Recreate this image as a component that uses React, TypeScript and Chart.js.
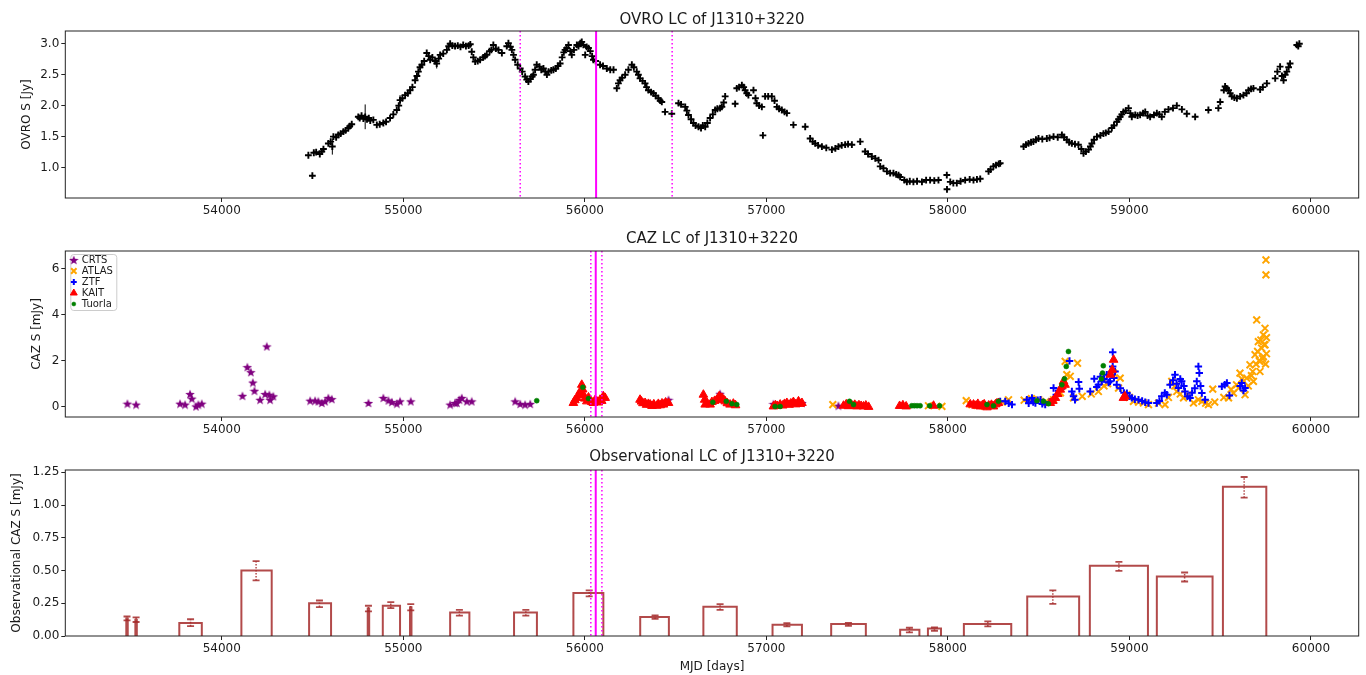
import React, { useEffect, useRef } from 'react';
import { Chart, registerables } from 'chart.js';
import { drawPoint } from 'chart.js/helpers';

Chart.register(...registerables);

// ---------------- data ----------------
const xTicks = [54000, 55000, 56000, 57000, 58000, 59000, 60000];
const ovroTicks = [1.0, 1.5, 2.0, 2.5, 3.0];
const cazTicks = [0, 2, 4, 6];
const obsTicks = [0, 0.25, 0.5, 0.75, 1.0, 1.25];

const ovroMjd = [
  54477, 54499, 54507, 54520, 54540, 54551, 54560, 54587, 54600, 54609, 54615, 54630, 54642, 54655, 54670, 54682, 54697, 54705, 54716,
  54752, 54760, 54770, 54780, 54790, 54800, 54810, 54818, 54835, 54854, 54870, 54890, 54905, 54927, 54945, 54964, 54975, 54982, 54995,
  55010, 55025, 55037, 55050, 55065, 55075, 55083, 55092, 55102, 55115, 55129, 55140, 55148, 55160, 55175, 55184, 55195, 55203, 55220,
  55240, 55250, 55258, 55270, 55285, 55300, 55315, 55330, 55345, 55360, 55369, 55377, 55386, 55396, 55410, 55423, 55440, 55450, 55460,
  55475, 55485, 55496, 55510, 55524, 55543, 55570, 55579, 55590, 55598, 55607, 55616, 55630, 55644, 55655, 55671, 55680, 55689, 55700,
  55710, 55717, 55726, 55735, 55750, 55760, 55772, 55782, 55791, 55800, 55815, 55827, 55840, 55852, 55864, 55875, 55884, 55891, 55900,
  55910, 55920, 55928, 55940, 55956, 55965, 55975, 55983, 55992, 56002, 56010, 56020, 56030, 56040, 56047, 56060, 56084, 56100, 56121,
  56140, 56158, 56176, 56185, 56194, 56205, 56222, 56240, 56259, 56270, 56286, 56295, 56304, 56318, 56332, 56340, 56350, 56365, 56378,
  56390, 56405, 56415, 56424, 56442, 56479, 56516, 56530, 56553, 56562, 56571, 56585, 56598, 56610, 56626, 56640, 56650, 56663, 56675,
  56690, 56705, 56718, 56730, 56745, 56755, 56765, 56773, 56828, 56837, 56850, 56865, 56875, 56883, 56892, 56901, 56929, 56940, 56947,
  56960, 56975, 56981, 56993, 57010, 57030, 57045, 57058, 57070, 57085, 57100, 57113, 57149, 57214, 57241, 57255, 57269, 57285, 57306,
  57330, 57361, 57380, 57397, 57415, 57434, 57450, 57471, 57517, 57544, 57560, 57581, 57600, 57618, 57627, 57645, 57664, 57682, 57700,
  57715, 57728, 57737, 57760, 57774, 57790, 57810, 57830, 57857, 57880, 57902, 57925, 57948, 57994, 57995, 58013, 58030, 58049, 58070,
  58095, 58120, 58141, 58160, 58178, 58224, 58235, 58251, 58265, 58280, 58288, 58417, 58430, 58444, 58458, 58471, 58485, 58499, 58520,
  58545, 58560, 58582, 58605, 58628, 58640, 58655, 58668, 58683, 58700, 58719, 58735, 58747, 58760, 58775, 58785, 58793, 58805, 58821,
  58840, 58857, 58870, 58885, 58903, 58915, 58931, 58940, 58949, 58958, 58967, 58980, 58995, 59005, 59013, 59032, 59045, 59059, 59075,
  59087, 59100, 59114, 59135, 59151, 59165, 59178, 59195, 59215, 59240, 59261, 59289, 59316, 59362, 59435, 59490, 59500, 59520, 59527,
  59535, 59546, 59555, 59564, 59578, 59592, 59610, 59628, 59645, 59656, 59670, 59683, 59720, 59735, 59757, 59803, 59815, 59830, 59840,
  59849, 59858, 59867, 59877, 59885, 59922, 59930, 59936,
];
const ovroFlux = [
  1.20, 0.87, 1.24, 1.25, 1.22, 1.26, 1.30, 1.39, 1.42, 1.34, 1.50, 1.49, 1.53, 1.55, 1.58, 1.60, 1.64, 1.67, 1.70,
  1.82, 1.80, 1.84, 1.79, 1.82, 1.78, 1.80, 1.76, 1.77, 1.69, 1.70, 1.72, 1.74, 1.80, 1.86, 1.93, 2.00, 2.09, 2.12,
  2.17, 2.20, 2.25, 2.30, 2.41, 2.48, 2.55, 2.62, 2.66, 2.72, 2.85, 2.80, 2.74, 2.78, 2.72, 2.68, 2.76, 2.82, 2.84,
  2.90, 2.96, 3.00, 2.97, 2.96, 2.97, 2.95, 2.98, 2.96, 2.97, 2.99, 2.87, 2.78, 2.71, 2.72, 2.74, 2.78, 2.80, 2.82,
  2.88, 2.90, 2.98, 2.92, 2.90, 2.85, 2.96, 3.01, 2.95, 2.90, 2.82, 2.74, 2.66, 2.60, 2.55, 2.47, 2.42, 2.39, 2.43,
  2.47, 2.50, 2.58, 2.66, 2.63, 2.58, 2.60, 2.55, 2.50, 2.55, 2.57, 2.58, 2.60, 2.64, 2.68, 2.78, 2.86, 2.90, 2.93,
  2.98, 2.88, 2.82, 2.90, 2.98, 2.96, 3.01, 3.03, 2.98, 2.82, 2.95, 2.93, 2.88, 2.80, 2.74, 2.72, 2.66, 2.64, 2.60,
  2.58, 2.58, 2.28, 2.36, 2.41, 2.45, 2.50, 2.58, 2.66, 2.62, 2.55, 2.50, 2.44, 2.40, 2.36, 2.30, 2.25, 2.22, 2.20,
  2.16, 2.12, 2.08, 2.06, 1.90, 1.87, 2.04, 2.02, 1.98, 1.92, 1.85, 1.78, 1.72, 1.68, 1.66, 1.64, 1.68, 1.66, 1.72,
  1.80, 1.86, 1.93, 1.95, 1.96, 1.98, 2.05, 2.15, 2.03, 2.28, 2.30, 2.33, 2.30, 2.25, 2.20, 2.17, 2.25, 2.12, 2.04,
  2.00, 1.98, 1.52, 2.15, 2.15, 2.15, 2.08, 1.98, 1.95, 1.93, 1.90, 1.88, 1.69, 1.66, 1.47, 1.42, 1.39, 1.36, 1.34,
  1.32, 1.29, 1.31, 1.34, 1.36, 1.37, 1.38, 1.37, 1.42, 1.26, 1.22, 1.18, 1.15, 1.12, 1.02, 0.99, 0.94, 0.91, 0.91,
  0.89, 0.88, 0.85, 0.80, 0.77, 0.78, 0.77, 0.78, 0.77, 0.80, 0.80, 0.79, 0.80, 0.88, 0.65, 0.77, 0.75, 0.75, 0.78,
  0.80, 0.81, 0.80, 0.81, 0.82, 0.94, 0.97, 1.02, 1.04, 1.06, 1.07, 1.34, 1.37, 1.39, 1.41, 1.42, 1.45, 1.47, 1.46,
  1.47, 1.48, 1.50, 1.49, 1.53, 1.49, 1.45, 1.41, 1.39, 1.38, 1.37, 1.30, 1.23, 1.26, 1.29, 1.34, 1.39, 1.45, 1.50,
  1.52, 1.55, 1.56, 1.58, 1.64, 1.68, 1.74, 1.78, 1.82, 1.86, 1.90, 1.92, 1.96, 1.88, 1.82, 1.85, 1.84, 1.85, 1.88,
  1.90, 1.84, 1.82, 1.85, 1.88, 1.86, 1.82, 1.90, 1.94, 1.96, 2.00, 1.94, 1.87, 1.82, 1.93, 1.96, 2.06, 2.25, 2.31,
  2.28, 2.25, 2.20, 2.15, 2.13, 2.12, 2.15, 2.17, 2.20, 2.25, 2.27, 2.28, 2.26, 2.30, 2.36, 2.44, 2.55, 2.63, 2.48,
  2.41, 2.50, 2.55, 2.62, 2.68, 2.98, 2.96, 3.00,
];
const ovroErrMjd = [54609, 54790, 54982, 55184, 55102];
const ovroErrLo = [1.21, 1.62, 2.01, 2.60, 2.61];
const ovroErrHi = [1.47, 2.02, 2.17, 2.76, 2.71];
const ovroSolid = [56062];
const ovroDotted = [55644, 56481];

const crtsMjd = [53480, 53528, 53770, 53798, 53825, 53835, 53858, 53871, 53890, 54114, 54141, 54160, 54171, 54180, 54211, 54248, 54239, 54262, 54266, 54284, 54487, 54514, 54532, 54551, 54569, 54587, 54606, 54808, 54890, 54918, 54937, 54964, 54982, 55041, 55258, 55285, 55295, 55309, 55322, 55350, 55377, 55616, 55644, 55671, 55699, 56461, 56745, 57039, 57196, 57397];
const crtsFlux = [0.13, 0.09, 0.13, 0.09, 0.55, 0.35, 0.01, 0.09, 0.13, 0.47, 1.72, 1.50, 1.05, 0.69, 0.30, 2.62, 0.55, 0.52, 0.30, 0.45, 0.26, 0.26, 0.23, 0.16, 0.23, 0.38, 0.33, 0.16, 0.38, 0.27, 0.20, 0.13, 0.23, 0.23, 0.09, 0.16, 0.16, 0.30, 0.38, 0.23, 0.23, 0.23, 0.12, 0.09, 0.12, 0.30, 0.56, 0.12, 0.16, 0.04];

const atlasMjd = [57366, 57893, 57967, 58101, 58132, 58160, 58200, 58240, 58300, 58334, 58420, 58460, 58500, 58540, 58582, 58620, 58646, 58655, 58674, 58692, 58714, 58740, 58790, 58829, 58860, 58880, 58913, 58940, 58949, 58986, 59000, 59022, 59050, 59077, 59105, 59160, 59196, 59215, 59233, 59250, 59261, 59280, 59298, 59320, 59353, 59380, 59399, 59420, 59435, 59459, 59470, 59520, 59546, 59560, 59573, 59590, 59601, 59609, 59620, 59637, 59646, 59655, 59664, 59672, 59679, 59683, 59692, 59698, 59701, 59706, 59710, 59715, 59719, 59719, 59724, 59728, 59733, 59738, 59738, 59742, 59747, 59747, 59750, 59752, 59752, 59755, 59755];
const atlasFlux = [0.09, 0.04, 0.01, 0.26, 0.09, 0.05, 0.02, 0.06, 0.20, 0.30, 0.28, 0.35, 0.30, 0.22, 0.30, 0.60, 1.97, 1.39, 1.32, 0.38, 1.89, 0.45, 0.55, 0.66, 0.90, 1.00, 1.46, 0.81, 1.24, 0.52, 0.40, 0.23, 0.20, 0.16, 0.09, 0.15, 0.09, 0.40, 1.10, 0.90, 0.66, 0.55, 0.38, 0.50, 0.16, 0.30, 0.23, 0.15, 0.09, 0.76, 0.20, 0.40, 0.38, 0.75, 0.59, 0.95, 0.81, 1.46, 1.20, 0.52, 1.24, 0.90, 1.82, 1.35, 1.53, 1.10, 2.26, 1.85, 3.77, 2.40, 2.83, 2.00, 1.97, 1.53, 2.90, 2.55, 2.10, 3.12, 2.18, 2.70, 3.41, 2.69, 1.85, 6.38, 5.73, 3.00, 2.30];

const ztfMjd = [58288, 58316, 58335, 58353, 58435, 58445, 58463, 58470, 58482, 58495, 58510, 58520, 58536, 58560, 58582, 58597, 58610, 58640, 58670, 58683, 58692, 58700, 58720, 58724, 58784, 58806, 58820, 58829, 58840, 58848, 58860, 58875, 58885, 58893, 58900, 58908, 58908, 58915, 58921, 58930, 58950, 58970, 58986, 59000, 59013, 59030, 59050, 59070, 59087, 59105, 59151, 59165, 59178, 59195, 59206, 59224, 59240, 59251, 59260, 59270, 59280, 59288, 59300, 59306, 59320, 59334, 59345, 59360, 59371, 59380, 59385, 59392, 59399, 59417, 59509, 59525, 59537, 59551, 59610, 59619, 59628, 59637];
const ztfFlux = [0.23, 0.23, 0.15, 0.09, 0.30, 0.15, 0.38, 0.20, 0.16, 0.28, 0.30, 0.12, 0.09, 0.20, 0.81, 0.52, 0.70, 0.90, 1.99, 0.66, 0.45, 0.30, 1.07, 0.78, 0.66, 1.21, 0.85, 0.95, 1.30, 1.10, 1.20, 1.39, 1.05, 1.10, 1.50, 2.37, 1.75, 1.25, 1.53, 0.95, 0.80, 0.60, 0.59, 0.45, 0.38, 0.32, 0.30, 0.25, 0.19, 0.16, 0.16, 0.25, 0.45, 0.60, 0.52, 0.95, 1.15, 1.39, 1.00, 0.81, 1.20, 1.10, 0.90, 0.66, 0.45, 0.38, 0.60, 0.80, 1.10, 1.75, 1.46, 0.90, 0.59, 0.30, 0.88, 0.95, 1.03, 0.49, 0.90, 1.03, 0.70, 0.81];

const kaitMjd = [55937, 55945, 55956, 55965, 55974, 55983, 55988, 55992, 56000, 56011, 56020, 56029, 56038, 56047, 56056, 56066, 56075, 56084, 56093, 56102, 56112, 56304, 56312, 56320, 56332, 56340, 56350, 56360, 56370, 56380, 56396, 56405, 56415, 56425, 56433, 56445, 56461, 56653, 56660, 56663, 56675, 56690, 56700, 56715, 56727, 56740, 56755, 56765, 56773, 56785, 56800, 56818, 56830, 57039, 57050, 57060, 57076, 57090, 57100, 57113, 57125, 57135, 57149, 57160, 57177, 57185, 57196, 57425, 57440, 57452, 57462, 57475, 57487, 57499, 57510, 57522, 57535, 57548, 57563, 57734, 57752, 57770, 57921, 58123, 58141, 58155, 58165, 58178, 58190, 58200, 58215, 58225, 58240, 58251, 58262, 58270, 58279, 58564, 58578, 58592, 58605, 58619, 58628, 58637, 58645, 58895, 58905, 58913, 58967, 58975];
const kaitFlux = [0.16, 0.28, 0.38, 0.50, 0.66, 0.95, 0.75, 0.52, 0.35, 0.23, 0.40, 0.30, 0.20, 0.16, 0.28, 0.23, 0.18, 0.30, 0.25, 0.45, 0.38, 0.30, 0.22, 0.15, 0.16, 0.08, 0.12, 0.09, 0.03, 0.10, 0.04, 0.12, 0.06, 0.14, 0.09, 0.18, 0.16, 0.52, 0.30, 0.09, 0.15, 0.09, 0.20, 0.25, 0.30, 0.45, 0.38, 0.30, 0.23, 0.15, 0.09, 0.13, 0.06, 0.01, 0.06, 0.03, 0.09, 0.05, 0.12, 0.16, 0.08, 0.14, 0.20, 0.10, 0.23, 0.12, 0.16, 0.04, 0.10, 0.02, 0.09, 0.04, 0.08, 0.01, 0.06, 0.03, 0.01, 0.05, -0.01, 0.03, 0.06, 0.01, 0.04, 0.10, 0.09, 0.04, 0.12, 0.01, 0.06, 0.10, -0.03, 0.05, 0.08, 0.01, 0.10, 0.14, 0.16, 0.16, 0.25, 0.38, 0.55, 0.74, 0.88, 1.10, 0.95, 1.39, 1.60, 2.04, 0.38, 0.45];

const tuorlaMjd = [55735, 55989, 56020, 56705, 56779, 56810, 56837, 57048, 57076, 57458, 57480, 57801, 57815, 57830, 57847, 57899, 57954, 58215, 58251, 58279, 58490, 58527, 58554, 58628, 58642, 58652, 58664, 58846, 58852, 58856];
const tuorlaFlux = [0.26, 0.84, 0.35, 0.19, 0.23, 0.13, 0.09, 0.01, 0.01, 0.23, 0.09, 0.04, 0.04, 0.04, 0.04, 0.04, 0.04, 0.09, 0.04, 0.23, 0.26, 0.23, 0.13, 0.95, 1.21, 1.75, 2.40, 1.21, 1.46, 1.78];

const cazSolid = [56060];
const cazDotted = [56033, 56094];

const binStart = [53474, 53524, 53766, 54108, 54481, 54804, 54887, 55037, 55258, 55610, 55937, 56305, 56653, 57034, 57357, 57737, 57890, 58088, 58437, 58782, 59151, 59515];
const binEnd = [53482, 53532, 53890, 54275, 54602, 54812, 54982, 55045, 55364, 55736, 56102, 56463, 56837, 57196, 57548, 57843, 57962, 58349, 58723, 59102, 59458, 59754];
const binValue = [0.134, 0.125, 0.099, 0.50, 0.251, 0.21, 0.231, 0.22, 0.18, 0.18, 0.328, 0.145, 0.223, 0.086, 0.091, 0.048, 0.058, 0.091, 0.302, 0.536, 0.454, 1.14];
const errMjd = [53478, 53528, 53828, 54189, 54538, 54808, 54931, 55041, 55309, 55675, 56024, 56387, 56745, 57113, 57452, 57788, 57926, 58220, 58578, 58942, 59304, 59632];
const errLo = [0.119, 0.107, 0.075, 0.424, 0.221, 0.188, 0.213, 0.195, 0.155, 0.155, 0.302, 0.130, 0.200, 0.073, 0.078, 0.027, 0.040, 0.073, 0.246, 0.498, 0.416, 1.056];
const errHi = [0.149, 0.142, 0.128, 0.571, 0.271, 0.231, 0.259, 0.244, 0.200, 0.200, 0.348, 0.157, 0.244, 0.099, 0.100, 0.063, 0.065, 0.111, 0.348, 0.566, 0.485, 1.214];

// ---------------- styling ----------------
const FONT = "'DejaVu Sans', sans-serif";
const TEXT = '#1a1a1a';
const X_MIN = 53138;
const X_MAX = 60263;
const BROWN = 'rgba(165,42,42,0.85)';
const MAGENTA = '#ff00ff';

function makeStar(size: number, color: string) {
  const c = document.createElement('canvas');
  c.width = size;
  c.height = size;
  const ctx = c.getContext('2d')!;
  const cx = size / 2, cy = size / 2 + 0.5, R = size / 2, r = R * 0.42;
  ctx.beginPath();
  for (let i = 0; i < 10; i++) {
    const rad = i % 2 === 0 ? R : r;
    const a = -Math.PI / 2 + (i * Math.PI) / 5;
    ctx.lineTo(cx + rad * Math.cos(a), cy + rad * Math.sin(a));
  }
  ctx.closePath();
  ctx.fillStyle = color;
  ctx.fill();
  return c;
}

const boxPlugin = {
  id: 'axesBox',
  afterDatasetsDraw(chart: any) {
    const { ctx, chartArea: a } = chart;
    ctx.save();
    ctx.strokeStyle = '#222';
    ctx.lineWidth = 1;
    ctx.strokeRect(a.left, a.top, a.right - a.left, a.bottom - a.top);
    ctx.restore();
  },
};

function vlinePlugin(solid: number[], dotted: number[]) {
  return {
    id: 'vlines',
    afterDatasetsDraw(chart: any) {
      const { ctx, chartArea: a } = chart;
      const xs = chart.scales.x;
      ctx.save();
      ctx.strokeStyle = MAGENTA;
      ctx.lineWidth = 1.5;
      ctx.setLineDash([1.5, 2.5]);
      dotted.forEach((v) => {
        const px = xs.getPixelForValue(v);
        ctx.beginPath();
        ctx.moveTo(px, a.top);
        ctx.lineTo(px, a.bottom);
        ctx.stroke();
      });
      ctx.setLineDash([]);
      ctx.lineWidth = 2;
      solid.forEach((v) => {
        const px = xs.getPixelForValue(v);
        ctx.beginPath();
        ctx.moveTo(px, a.top);
        ctx.lineTo(px, a.bottom);
        ctx.stroke();
      });
      ctx.restore();
    },
  };
}

const legendPlugin = {
  id: 'boxLegend',
  afterDraw(chart: any) {
    const { ctx, chartArea: a } = chart;
    const items = chart.data.datasets.filter((d: any) => d.label);
    const x0 = a.left + 5.5, y0 = a.top + 3.5, w = 46, h = 56;
    ctx.save();
    ctx.beginPath();
    const r = 3;
    ctx.moveTo(x0 + r, y0);
    ctx.lineTo(x0 + w - r, y0);
    ctx.quadraticCurveTo(x0 + w, y0, x0 + w, y0 + r);
    ctx.lineTo(x0 + w, y0 + h - r);
    ctx.quadraticCurveTo(x0 + w, y0 + h, x0 + w - r, y0 + h);
    ctx.lineTo(x0 + r, y0 + h);
    ctx.quadraticCurveTo(x0, y0 + h, x0, y0 + h - r);
    ctx.lineTo(x0, y0 + r);
    ctx.quadraticCurveTo(x0, y0, x0 + r, y0);
    ctx.closePath();
    ctx.fillStyle = 'rgba(255,255,255,0.8)';
    ctx.fill();
    ctx.strokeStyle = '#cccccc';
    ctx.lineWidth = 1;
    ctx.stroke();
    items.forEach((ds: any, i: number) => {
      const cy = y0 + 5.5 + i * 11;
      const cx = x0 + 3;
      ctx.fillStyle = ds.backgroundColor;
      ctx.strokeStyle = ds.borderColor;
      ctx.lineWidth = ds.borderWidth;
      drawPoint(ctx, { pointStyle: ds.pointStyle, radius: ds.pointRadius * 0.8, borderWidth: ds.borderWidth, rotation: 0 } as any, cx, cy);
      ctx.fillStyle = TEXT;
      ctx.font = `10px ${FONT}`;
      ctx.textBaseline = 'middle';
      ctx.textAlign = 'left';
      ctx.fillText(ds.label, x0 + 11, cy + 0.5);
    });
    ctx.restore();
  },
};

function panelOptions(o: {
  title: string; titlePad: { top: number; bottom: number };
  yTitle: string; yTitlePad: number; yMin: number; yMax: number; yTicks: number[]; yDigits: number;
  xTitle?: string; xHeight: number;
}) {
  return {
    responsive: false,
    animation: false as const,
    events: [] as any[],
    layout: { padding: { left: 0, right: 7.3, top: 0, bottom: 0 } },
    plugins: {
      legend: { display: false },
      tooltip: { enabled: false },
      title: {
        display: true,
        text: o.title,
        fullSize: false,
        color: TEXT,
        font: { size: 15, weight: 'normal' as const, family: FONT },
        padding: o.titlePad,
      },
    },
    scales: {
      x: {
        type: 'linear' as const,
        min: X_MIN,
        max: X_MAX,
        afterBuildTicks: (s: any) => { s.ticks = xTicks.map((v) => ({ value: v })); },
        afterFit: (s: any) => { s.height = o.xHeight; },
        ticks: { callback: (v: any) => String(v), color: TEXT, font: { size: 12, family: FONT }, padding: 2, maxRotation: 0, autoSkip: false },
        grid: { display: true, drawOnChartArea: false, drawTicks: true, tickLength: 4, color: '#222', lineWidth: 1 },
        border: { display: false },
        title: o.xTitle
          ? { display: true, text: o.xTitle, color: TEXT, font: { size: 12, family: FONT }, padding: { top: 0, bottom: 1 } }
          : { display: false },
      },
      y: {
        type: 'linear' as const,
        min: o.yMin,
        max: o.yMax,
        afterBuildTicks: (s: any) => { s.ticks = o.yTicks.map((v) => ({ value: v })); },
        afterFit: (s: any) => { s.width = 65.3; },
        ticks: { callback: (v: any) => Number(v).toFixed(o.yDigits), color: TEXT, font: { size: 12, family: FONT }, padding: 2 },
        grid: { display: true, drawOnChartArea: false, drawTicks: true, tickLength: 4, color: '#222', lineWidth: 1 },
        border: { display: false },
        title: { display: true, text: o.yTitle, color: TEXT, font: { size: 12, family: FONT }, padding: { top: o.yTitlePad, bottom: 0 } },
      },
    },
  };
}

const pts = (xs: number[], ys: number[]) => xs.map((x, i) => ({ x, y: ys[i] }));

export default function App() {
  const r1 = useRef<HTMLCanvasElement>(null);
  const r2 = useRef<HTMLCanvasElement>(null);
  const r3 = useRef<HTMLCanvasElement>(null);

  useEffect(() => {
    Chart.defaults.font.family = FONT;
    Chart.defaults.color = TEXT;
    const star = makeStar(10, '#800080');

    const ovroErrSeg: any[] = [];
    ovroErrMjd.forEach((x, i) => {
      ovroErrSeg.push({ x, y: ovroErrLo[i] }, { x, y: ovroErrHi[i] }, { x, y: null });
    });

    const c1 = new Chart(r1.current!, {
      type: 'scatter',
      data: {
        datasets: [
          { type: 'line', data: ovroErrSeg, borderColor: '#000', borderWidth: 1, pointRadius: 0, fill: false, spanGaps: false, tension: 0 } as any,
          { data: pts(ovroMjd, ovroFlux), pointStyle: 'cross', pointRadius: 3.4, borderColor: '#000', backgroundColor: '#000', borderWidth: 1.9 } as any,
        ],
      },
      options: panelOptions({
        title: 'OVRO LC of J1310+3220', titlePad: { top: 11, bottom: 2 },
        yTitle: 'OVRO S [Jy]', yTitlePad: 19.5, yMin: 0.51, yMax: 3.205, yTicks: ovroTicks, yDigits: 1, xHeight: 24,
      }) as any,
      plugins: [vlinePlugin(ovroSolid, ovroDotted), boxPlugin],
    });

    const c2 = new Chart(r2.current!, {
      type: 'scatter',
      data: {
        datasets: [
          { label: 'CRTS', data: pts(crtsMjd, crtsFlux), pointStyle: star, pointRadius: 5, backgroundColor: '#800080', borderColor: '#800080', borderWidth: 1, order: 5 },
          { label: 'ATLAS', data: pts(atlasMjd, atlasFlux), pointStyle: 'crossRot', pointRadius: 4.8, backgroundColor: '#ffa500', borderColor: '#ffa500', borderWidth: 2, order: 4 },
          { label: 'ZTF', data: pts(ztfMjd, ztfFlux), pointStyle: 'cross', pointRadius: 3.7, backgroundColor: '#0000ff', borderColor: '#0000ff', borderWidth: 2, order: 3 },
          { label: 'KAIT', data: pts(kaitMjd, kaitFlux), pointStyle: 'triangle', pointRadius: 5, backgroundColor: '#ff0000', borderColor: '#ff0000', borderWidth: 1, order: 2 },
          { label: 'Tuorla', data: pts(tuorlaMjd, tuorlaFlux), pointStyle: 'circle', pointRadius: 2.5, backgroundColor: '#008000', borderColor: '#008000', borderWidth: 0.5, order: 1 },
        ] as any,
      },
      options: panelOptions({
        title: 'CAZ LC of J1310+3220', titlePad: { top: 7, bottom: 3 },
        yTitle: 'CAZ S [mJy]', yTitlePad: 30, yMin: -0.45, yMax: 6.77, yTicks: cazTicks, yDigits: 0, xHeight: 24,
      }) as any,
      plugins: [vlinePlugin(cazSolid, cazDotted), boxPlugin, legendPlugin],
    });

    const barSeg: any[] = [];
    binStart.forEach((s, i) => {
      const e = binEnd[i], h = binValue[i];
      barSeg.push({ x: s, y: 0 }, { x: s, y: h }, { x: e, y: h }, { x: e, y: 0 }, { x: e, y: null });
    });
    const errSeg: any[] = [];
    errMjd.forEach((x, i) => {
      errSeg.push({ x, y: errLo[i] }, { x, y: errHi[i] }, { x, y: null });
    });

    const c3 = new Chart(r3.current!, {
      type: 'scatter',
      data: {
        datasets: [
          { type: 'line', data: barSeg, borderColor: BROWN, borderWidth: 2, pointRadius: 0, fill: false, spanGaps: false, tension: 0, borderJoinStyle: 'miter' } as any,
          { type: 'line', data: errSeg, borderColor: BROWN, borderWidth: 1.5, borderDash: [1.5, 1.5], pointStyle: 'line', pointRadius: 3.5, pointBorderWidth: 1.8, pointBorderColor: BROWN, pointBackgroundColor: BROWN, fill: false, spanGaps: false, tension: 0 } as any,
        ],
      },
      options: panelOptions({
        title: 'Observational LC of J1310+3220', titlePad: { top: 7, bottom: 4 },
        yTitle: 'Observational CAZ S [mJy]', yTitlePad: 10, yMin: 0, yMax: 1.2675, yTicks: obsTicks, yDigits: 2,
        xTitle: 'MJD [days]', xHeight: 39,
      }) as any,
      plugins: [vlinePlugin(cazSolid, cazDotted), boxPlugin],
    });

    return () => {
      c1.destroy();
      c2.destroy();
      c3.destroy();
    };
  }, []);

  return (
    <div style={{ position: 'absolute', left: 0, top: 0, width: 1366, height: 675, background: '#fff', overflow: 'hidden' }}>
      <canvas ref={r1} width={1366} height={222} style={{ position: 'absolute', left: 0, top: 0 }} />
      <canvas ref={r2} width={1366} height={218} style={{ position: 'absolute', left: 0, top: 223 }} />
      <canvas ref={r3} width={1366} height={234} style={{ position: 'absolute', left: 0, top: 441 }} />
    </div>
  );
}
